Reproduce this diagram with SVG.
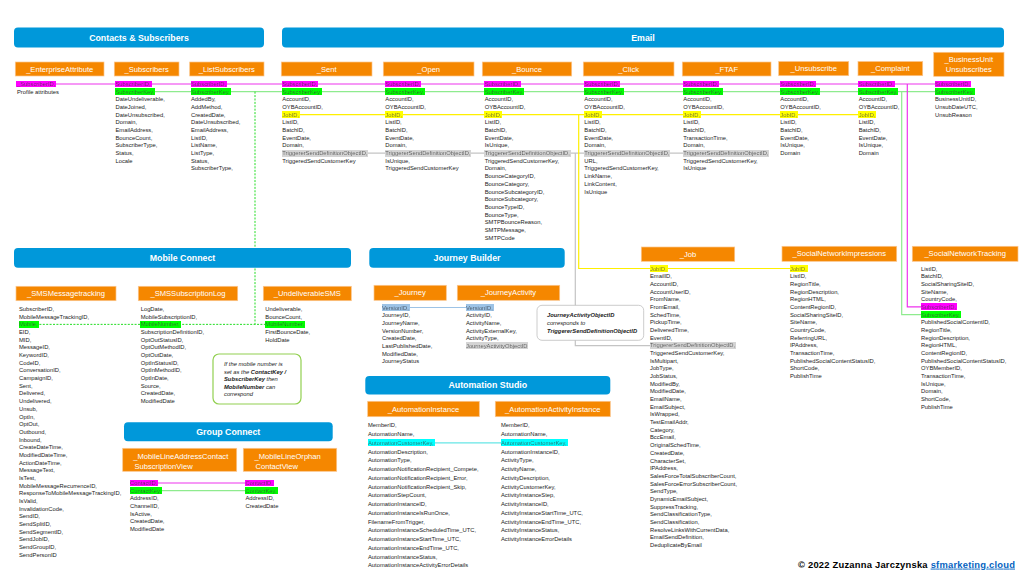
<svg xmlns="http://www.w3.org/2000/svg" width="1024" height="576" viewBox="0 0 1024 576">
<defs>
<filter id="hlM" x="0" y="0" width="1" height="1"><feFlood flood-color="#FF00FF" result="bg"/><feMerge><feMergeNode in="bg"/><feMergeNode in="SourceGraphic"/></feMerge></filter>
<filter id="hlG" x="0" y="0" width="1" height="1"><feFlood flood-color="#00FF00" result="bg"/><feMerge><feMergeNode in="bg"/><feMergeNode in="SourceGraphic"/></feMerge></filter>
<filter id="hlY" x="0" y="0" width="1" height="1"><feFlood flood-color="#FFFF00" result="bg"/><feMerge><feMergeNode in="bg"/><feMergeNode in="SourceGraphic"/></feMerge></filter>
<filter id="hlS" x="0" y="0" width="1" height="1"><feFlood flood-color="#D4D4D4" result="bg"/><feMerge><feMergeNode in="bg"/><feMergeNode in="SourceGraphic"/></feMerge></filter>
<filter id="hlB" x="0" y="0" width="1" height="1"><feFlood flood-color="#9DC3E6" result="bg"/><feMerge><feMergeNode in="bg"/><feMergeNode in="SourceGraphic"/></feMerge></filter>
<filter id="hlC" x="0" y="0" width="1" height="1"><feFlood flood-color="#00FFFF" result="bg"/><feMerge><feMergeNode in="bg"/><feMergeNode in="SourceGraphic"/></feMerge></filter>
</defs>
<style>
.f{font-family:"Liberation Sans",Arial,sans-serif;font-size:5.8px;fill:#222}
.it{font-style:italic}
.b{font-weight:bold}
.th{font-family:"Liberation Sans",Arial,sans-serif;font-size:7.6px;fill:#fff;text-anchor:middle}
.thl{font-family:"Liberation Sans",Arial,sans-serif;font-size:7.6px;fill:#fff}
.sh{font-family:"Liberation Sans",Arial,sans-serif;font-size:8.8px;font-weight:bold;fill:#fff;text-anchor:middle}
.ob{fill:#F58700;stroke:#FBC58C;stroke-width:0.7}
.bb{fill:#0098DA}
.hm{filter:url(#hlM)}
.hg{filter:url(#hlG)}
.hy{filter:url(#hlY)}
.hs{filter:url(#hlS)}
.hb{filter:url(#hlB)}
.hc{filter:url(#hlC)}
.ln{fill:none;stroke-width:1.2}
.lm{stroke:#EE33EE}
.lg{stroke:#8EEB8E}
.ly{stroke:#FFF000}
.ls{stroke:#C4C4C4}
.llb{stroke:#9DC3E6}
.lc{stroke:#66E6E6}
.ld{stroke:#22DD22;stroke-dasharray:2 1.4;stroke-width:1}
</style>
<rect width="1024" height="576" fill="#fff"/>

<g id="connectors">
<path class="ln lm" d="M17 84 H940"/>
<path class="ln lg" d="M116 91.68 H940"/>
<path class="ln ly" d="M283 114.72 H860"/>
<path class="ln ls" d="M283 153.12 H684"/>
<path class="ln ly" d="M578.7 114.72 V268.5 H792"/>
<path class="ln ls" d="M575.3 153.12 V345.6 H651"/>
<path class="ln lm" d="M907.3 84 V306.9 H922"/>
<path class="ln lg" d="M901.7 91.68 V314.58 H922"/>
<path class="ln llb" d="M382 307.5 H467"/>
<path class="ln ld" d="M255 91.68 V324.36"/>
<path class="ln ld" d="M19 324.36 H266"/>
<path class="ln lc" d="M368 442.8 H502"/>
<path class="ln lm" d="M130 483 H246"/>
<path class="ln lg" d="M130 490.68 H246"/>
</g>

<g id="section-headers">
<rect class="bb" x="14" y="27.5" width="250" height="20" rx="4"/>
<text class="sh" x="139" y="40.7">Contacts &amp; Subscribers</text>
<rect class="bb" x="282" y="27.5" width="722" height="20" rx="4"/>
<text class="sh" x="643" y="40.7">Email</text>
<rect class="bb" x="14" y="248" width="337" height="19.7" rx="4"/>
<text class="sh" x="182.5" y="261">Mobile Connect</text>
<rect class="bb" x="369.3" y="248" width="195.4" height="19.7" rx="4"/>
<text class="sh" x="467" y="261">Journey Builder</text>
<rect class="bb" x="365.3" y="376" width="245" height="18.5" rx="4"/>
<text class="sh" x="487.8" y="388.4">Automation Studio</text>
<rect class="bb" x="124" y="422.3" width="208.7" height="19" rx="4"/>
<text class="sh" x="228.3" y="435">Group Connect</text>
</g>

<g id="EnterpriseAttribute">
<rect class="ob" x="15.3" y="62" width="88.7" height="14"/>
<text class="th" x="59.7" y="71.7">_EnterpriseAttribute</text>
<text class="f hm" x="17" y="86">_SubscriberID,</text>
<text class="f" x="17" y="93.68">Profile attributes</text>
</g>

<g id="Subscribers">
<rect class="ob" x="114.3" y="62" width="64.7" height="14"/>
<text class="th" x="146.7" y="71.7">_Subscribers</text>
<text class="f hm" x="115.5" y="86">SubscriberID,</text>
<text class="f hg" x="115.5" y="93.68">SubscriberKey,</text>
<text class="f"><tspan x="115.5" y="101.36">DateUndeliverable,</tspan><tspan x="115.5" dy="7.68">DateJoined,</tspan><tspan x="115.5" dy="7.68">DateUnsubscribed,</tspan><tspan x="115.5" dy="7.68">Domain,</tspan><tspan x="115.5" dy="7.68">EmailAddress,</tspan><tspan x="115.5" dy="7.68">BounceCount,</tspan><tspan x="115.5" dy="7.68">SubscriberType,</tspan><tspan x="115.5" dy="7.68">Status,</tspan><tspan x="115.5" dy="7.68">Locale</tspan></text>
</g>

<g id="ListSubscribers">
<rect class="ob" x="189.7" y="62" width="74.3" height="14"/>
<text class="th" x="226.8" y="71.7">_ListSubscribers</text>
<text class="f hm" x="191" y="86">SubscriberID,</text>
<text class="f hg" x="191" y="93.68">SubscriberKey,</text>
<text class="f"><tspan x="191" y="101.36">AddedBy,</tspan><tspan x="191" dy="7.68">AddMethod,</tspan><tspan x="191" dy="7.68">CreatedDate,</tspan><tspan x="191" dy="7.68">DateUnsubscribed,</tspan><tspan x="191" dy="7.68">EmailAddress,</tspan><tspan x="191" dy="7.68">ListID,</tspan><tspan x="191" dy="7.68">ListName,</tspan><tspan x="191" dy="7.68">ListType,</tspan><tspan x="191" dy="7.68">Status,</tspan><tspan x="191" dy="7.68">SubscriberType,</tspan></text>
</g>

<g id="Sent">
<rect class="ob" x="281.3" y="62" width="90.7" height="14"/>
<text class="th" x="326.7" y="71.7">_Sent</text>
<text class="f hm" x="282.3" y="86">SubscriberID,</text>
<text class="f hg" x="282.3" y="93.68">SubscriberKey,</text>
<text class="f hy" x="282.3" y="116.72">JobID,</text>
<text class="f hs" x="282.3" y="155.12">TriggererSendDefinitionObjectID,</text>
<text class="f"><tspan x="282.3" y="101.36">AccountID,</tspan><tspan x="282.3" dy="7.68">OYBAccountID,</tspan><tspan x="282.3" y="124.4">ListID,</tspan><tspan x="282.3" dy="7.68">BatchID,</tspan><tspan x="282.3" dy="7.68">EventDate,</tspan><tspan x="282.3" dy="7.68">Domain,</tspan><tspan x="282.3" y="162.8">TriggeredSendCustomerKey</tspan></text>
</g>

<g id="Open">
<rect class="ob" x="383.3" y="62" width="90.7" height="14"/>
<text class="th" x="428.7" y="71.7">_Open</text>
<text class="f hm" x="385.3" y="86">SubscriberID,</text>
<text class="f hg" x="385.3" y="93.68">SubscriberKey,</text>
<text class="f hy" x="385.3" y="116.72">JobID,</text>
<text class="f hs" x="385.3" y="155.12">TriggererSendDefinitionObjectID,</text>
<text class="f"><tspan x="385.3" y="101.36">AccountID,</tspan><tspan x="385.3" dy="7.68">OYBAccountID,</tspan><tspan x="385.3" y="124.4">ListID,</tspan><tspan x="385.3" dy="7.68">BatchID,</tspan><tspan x="385.3" dy="7.68">EventDate,</tspan><tspan x="385.3" dy="7.68">Domain,</tspan><tspan x="385.3" y="162.8">IsUnique,</tspan><tspan x="385.3" dy="7.68">TriggeredSendCustomerKey</tspan></text>
</g>

<g id="Bounce">
<rect class="ob" x="482.3" y="62" width="89.4" height="14"/>
<text class="th" x="527" y="71.7">_Bounce</text>
<text class="f hm" x="484.7" y="86">SubscriberID,</text>
<text class="f hg" x="484.7" y="93.68">SubscriberKey,</text>
<text class="f hy" x="484.7" y="116.72">JobID,</text>
<text class="f hs" x="484.7" y="155.12">TriggererSendDefinitionObjectID,</text>
<text class="f"><tspan x="484.7" y="101.36">AccountID,</tspan><tspan x="484.7" dy="7.68">OYBAccountID,</tspan><tspan x="484.7" y="124.4">ListID,</tspan><tspan x="484.7" dy="7.68">BatchID,</tspan><tspan x="484.7" dy="7.68">EventDate,</tspan><tspan x="484.7" dy="7.68">IsUnique,</tspan><tspan x="484.7" y="162.8">TriggeredSendCustomerKey,</tspan><tspan x="484.7" dy="7.68">Domain,</tspan><tspan x="484.7" dy="7.68">BounceCategoryID,</tspan><tspan x="484.7" dy="7.68">BounceCategory,</tspan><tspan x="484.7" dy="7.68">BounceSubcategoryID,</tspan><tspan x="484.7" dy="7.68">BounceSubcategory,</tspan><tspan x="484.7" dy="7.68">BounceTypeID,</tspan><tspan x="484.7" dy="7.68">BounceType,</tspan><tspan x="484.7" dy="7.68">SMTPBounceReason,</tspan><tspan x="484.7" dy="7.68">SMTPMessage,</tspan><tspan x="484.7" dy="7.68">SMTPCode</tspan></text>
</g>

<g id="Click">
<rect class="ob" x="583.3" y="62" width="90.7" height="14"/>
<text class="th" x="628.7" y="71.7">_Click</text>
<text class="f hm" x="584.3" y="86">SubscriberID,</text>
<text class="f hg" x="584.3" y="93.68">SubscriberKey,</text>
<text class="f hy" x="584.3" y="116.72">JobID,</text>
<text class="f hs" x="584.3" y="155.12">TriggererSendDefinitionObjectID,</text>
<text class="f"><tspan x="584.3" y="101.36">AccountID,</tspan><tspan x="584.3" dy="7.68">OYBAccountID,</tspan><tspan x="584.3" y="124.4">ListID,</tspan><tspan x="584.3" dy="7.68">BatchID,</tspan><tspan x="584.3" dy="7.68">EventDate,</tspan><tspan x="584.3" dy="7.68">Domain,</tspan><tspan x="584.3" y="162.8">URL,</tspan><tspan x="584.3" dy="7.68">TriggeredSendCustomerKey,</tspan><tspan x="584.3" dy="7.68">LinkName,</tspan><tspan x="584.3" dy="7.68">LinkContent,</tspan><tspan x="584.3" dy="7.68">IsUnique</tspan></text>
</g>

<g id="FTAF">
<rect class="ob" x="682.3" y="62" width="88.7" height="14"/>
<text class="th" x="726.7" y="71.7">_FTAF</text>
<text class="f hm" x="683.3" y="86">SubscriberID,</text>
<text class="f hg" x="683.3" y="93.68">SubscriberKey,</text>
<text class="f hy" x="683.3" y="116.72">JobID,</text>
<text class="f hs" x="683.3" y="155.12">TriggererSendDefinitionObjectID,</text>
<text class="f"><tspan x="683.3" y="101.36">AccountID,</tspan><tspan x="683.3" dy="7.68">OYBAccountID,</tspan><tspan x="683.3" y="124.4">ListID,</tspan><tspan x="683.3" dy="7.68">BatchID,</tspan><tspan x="683.3" dy="7.68">TransactionTime,</tspan><tspan x="683.3" dy="7.68">Domain,</tspan><tspan x="683.3" y="162.8">TriggeredSendCustomerKey,</tspan><tspan x="683.3" dy="7.68">IsUnique</tspan></text>
</g>

<g id="Unsubscribe">
<rect class="ob" x="778.7" y="61.5" width="70" height="14.2"/>
<text class="th" x="813.7" y="71.3">_Unsubscribe</text>
<text class="f hm" x="780.3" y="86">SubscriberID,</text>
<text class="f hg" x="780.3" y="93.68">SubscriberKey,</text>
<text class="f hy" x="780.3" y="116.72">JobID,</text>
<text class="f"><tspan x="780.3" y="101.36">AccountID,</tspan><tspan x="780.3" dy="7.68">OYBAccountID,</tspan><tspan x="780.3" y="124.4">ListID,</tspan><tspan x="780.3" dy="7.68">BatchID,</tspan><tspan x="780.3" dy="7.68">EventDate,</tspan><tspan x="780.3" dy="7.68">IsUnique,</tspan><tspan x="780.3" dy="7.68">Domain</tspan></text>
</g>

<g id="Complaint">
<rect class="ob" x="858" y="61.5" width="64.7" height="14.2"/>
<text class="th" x="890.3" y="71.3">_Complaint</text>
<text class="f hm" x="858.7" y="86">SubscriberID,</text>
<text class="f hg" x="858.7" y="93.68">SubscriberKey,</text>
<text class="f hy" x="858.7" y="116.72">JobID,</text>
<text class="f"><tspan x="858.7" y="101.36">AccountID,</tspan><tspan x="858.7" dy="7.68">OYBAccountID,</tspan><tspan x="858.7" y="124.4">ListID,</tspan><tspan x="858.7" dy="7.68">BatchID,</tspan><tspan x="858.7" dy="7.68">EventDate,</tspan><tspan x="858.7" dy="7.68">IsUnique,</tspan><tspan x="858.7" dy="7.68">Domain</tspan></text>
</g>

<g id="BusinessUnitUnsubscribes">
<rect class="ob" x="933.7" y="52.3" width="70.3" height="24"/>
<text class="th" x="968.8" y="61.8">_BusinessUnit</text>
<text class="th" x="968.8" y="72.1">Unsubscribes</text>
<text class="f hm" x="935" y="86">SubscriberID,</text>
<text class="f hg" x="935" y="93.68">SubscriberKey,</text>
<text class="f"><tspan x="935" y="101.36">BusinessUnitID,</tspan><tspan x="935" dy="7.68">UnsubDateUTC,</tspan><tspan x="935" dy="7.68">UnsubReason</tspan></text>
</g>

<g id="SMSMessagetracking">
<rect class="ob" x="16" y="286.3" width="100" height="14.4"/>
<text class="th" x="66" y="296.2">_SMSMessagetracking</text>
<text class="f hg" x="19" y="326.36">Mobile,</text>
<text class="f"><tspan x="19" y="311">SubscriberID,</tspan><tspan x="19" dy="7.68">MobileMessageTrackingID,</tspan><tspan x="19" y="334.04">EID,</tspan><tspan x="19" dy="7.68">MID,</tspan><tspan x="19" dy="7.68">MessageID,</tspan><tspan x="19" dy="7.68">KeywordID,</tspan><tspan x="19" dy="7.68">CodeID,</tspan><tspan x="19" dy="7.68">ConversationID,</tspan><tspan x="19" dy="7.68">CampaignID,</tspan><tspan x="19" dy="7.68">Sent,</tspan><tspan x="19" dy="7.68">Delivered,</tspan><tspan x="19" dy="7.68">Undelivered,</tspan><tspan x="19" dy="7.68">Unsub,</tspan><tspan x="19" dy="7.68">OptIn,</tspan><tspan x="19" dy="7.68">OptOut,</tspan><tspan x="19" dy="7.68">Outbound,</tspan><tspan x="19" dy="7.68">Inbound,</tspan><tspan x="19" dy="7.68">CreateDateTime,</tspan><tspan x="19" dy="7.68">ModifiedDateTime,</tspan><tspan x="19" dy="7.68">ActionDateTime,</tspan><tspan x="19" dy="7.68">MessageText,</tspan><tspan x="19" dy="7.68">IsTest,</tspan><tspan x="19" dy="7.68">MobileMessageRecurrenceID,</tspan><tspan x="19" dy="7.68">ResponseToMobileMessageTrackingID,</tspan><tspan x="19" dy="7.68">IsValid,</tspan><tspan x="19" dy="7.68">InvalidationCode,</tspan><tspan x="19" dy="7.68">SendID,</tspan><tspan x="19" dy="7.68">SendSplitID,</tspan><tspan x="19" dy="7.68">SendSegmentID,</tspan><tspan x="19" dy="7.68">SendJobID,</tspan><tspan x="19" dy="7.68">SendGroupID,</tspan><tspan x="19" dy="7.68">SendPersonID</tspan></text>
</g>

<g id="SMSSubscriptionLog">
<rect class="ob" x="138.3" y="286.3" width="99.4" height="14.4"/>
<text class="th" x="188" y="296.2">_SMSSubscriptionLog</text>
<text class="f hg" x="140.7" y="326.36">MobileNumber,</text>
<text class="f"><tspan x="140.7" y="311">LogDate,</tspan><tspan x="140.7" dy="7.68">MobileSubscriptionID,</tspan><tspan x="140.7" y="334.04">SubscriptionDefinitionID,</tspan><tspan x="140.7" dy="7.68">OptOutStatusID,</tspan><tspan x="140.7" dy="7.68">OptOutMethodID,</tspan><tspan x="140.7" dy="7.68">OptOutDate,</tspan><tspan x="140.7" dy="7.68">OptInStatusID,</tspan><tspan x="140.7" dy="7.68">OptInMethodID,</tspan><tspan x="140.7" dy="7.68">OptInDate,</tspan><tspan x="140.7" dy="7.68">Source,</tspan><tspan x="140.7" dy="7.68">CreatedDate,</tspan><tspan x="140.7" dy="7.68">ModifiedDate</tspan></text>
</g>

<g id="UndeliverableSMS">
<rect class="ob" x="263.3" y="286.3" width="88" height="14.4"/>
<text class="th" x="307.3" y="296.2">_UndeliverableSMS</text>
<text class="f hg" x="265.3" y="326.36">MobileNumber,</text>
<text class="f"><tspan x="265.3" y="311">Undeliverable,</tspan><tspan x="265.3" dy="7.68">BounceCount,</tspan><tspan x="265.3" y="334.04">FirstBounceDate,</tspan><tspan x="265.3" dy="7.68">HoldDate</tspan></text>
</g>

<g id="mobile-note">
<rect x="213" y="354" width="88" height="50" rx="6" fill="#fff" stroke="#92D050" stroke-width="1.2"/>
<text class="f it"><tspan x="224" y="366">If the mobile number is</tspan><tspan x="224" dy="7.6">set as the <tspan class="b">ContactKey /</tspan></tspan><tspan x="224" dy="7.6" class="b">SubscriberKey</tspan><tspan> then</tspan><tspan x="224" dy="7.6" class="b">MobileNumber</tspan><tspan> can</tspan><tspan x="224" dy="7.6">correspond</tspan></text>
</g>

<g id="Journey">
<rect class="ob" x="374" y="285.3" width="72.3" height="15"/>
<text class="th" x="410.2" y="295.4">_Journey</text>
<text class="f hb" x="382" y="309.5">VersionID,</text>
<text class="f"><tspan x="382" y="317.18">JourneyID,</tspan><tspan x="382" dy="7.68">JourneyName,</tspan><tspan x="382" dy="7.68">VersionNumber,</tspan><tspan x="382" dy="7.68">CreatedDate,</tspan><tspan x="382" dy="7.68">LastPublishedDate,</tspan><tspan x="382" dy="7.68">ModifiedDate,</tspan><tspan x="382" dy="7.68">JourneyStatus</tspan></text>
</g>

<g id="JourneyActivity">
<rect class="ob" x="457.3" y="285.3" width="102.4" height="15"/>
<text class="th" x="508.5" y="295.4">_JourneyActivity</text>
<text class="f hb" x="466" y="309.5">VersionID,</text>
<text class="f hs" x="466" y="347.9">JourneyActivityObjectID</text>
<text class="f"><tspan x="466" y="317.18">ActivityID,</tspan><tspan x="466" dy="7.68">ActivityName,</tspan><tspan x="466" dy="7.68">ActivityExternalKey,</tspan><tspan x="466" dy="7.68">ActivityType,</tspan></text>
</g>

<g id="journey-note">
<rect x="537" y="305.3" width="106.7" height="35" rx="5" fill="#fff" stroke="#BFBFBF" stroke-width="0.8"/>
<text class="f it b" x="547" y="317.3">JourneyActivityObjectID</text>
<text class="f it" x="547" y="325">corresponds to</text>
<text class="f it b" x="547" y="332.5">TriggererSendDefinitionObjectID</text>
</g>

<g id="Job">
<rect class="ob" x="641.3" y="247" width="93.4" height="14.3"/>
<text class="th" x="688" y="256.8">_Job</text>
<text class="f hy" x="650" y="270.5">JobID,</text>
<text class="f hs" x="650" y="347.3">TriggererSendDefinitionObjectID,</text>
<text class="f"><tspan x="650" y="278.18">EmailID,</tspan><tspan x="650" dy="7.68">AccountID,</tspan><tspan x="650" dy="7.68">AccountUserID,</tspan><tspan x="650" dy="7.68">FromName,</tspan><tspan x="650" dy="7.68">FromEmail,</tspan><tspan x="650" dy="7.68">SchedTime,</tspan><tspan x="650" dy="7.68">PickupTime,</tspan><tspan x="650" dy="7.68">DeliveredTime,</tspan><tspan x="650" dy="7.68">EventID,</tspan><tspan x="650" y="354.98">TriggeredSendCustomerKey,</tspan><tspan x="650" dy="7.68">IsMultipart,</tspan><tspan x="650" dy="7.68">JobType,</tspan><tspan x="650" dy="7.68">JobStatus,</tspan><tspan x="650" dy="7.68">ModifiedBy,</tspan><tspan x="650" dy="7.68">ModifiedDate,</tspan><tspan x="650" dy="7.68">EmailName,</tspan><tspan x="650" dy="7.68">EmailSubject,</tspan><tspan x="650" dy="7.68">IsWrapped,</tspan><tspan x="650" dy="7.68">TestEmailAddr,</tspan><tspan x="650" dy="7.68">Category,</tspan><tspan x="650" dy="7.68">BccEmail,</tspan><tspan x="650" dy="7.68">OriginalSchedTime,</tspan><tspan x="650" dy="7.68">CreatedDate,</tspan><tspan x="650" dy="7.68">CharacterSet,</tspan><tspan x="650" dy="7.68">IPAddress,</tspan><tspan x="650" dy="7.68">SalesForceTotalSubscriberCount,</tspan><tspan x="650" dy="7.68">SalesForceErrorSubscriberCount,</tspan><tspan x="650" dy="7.68">SendType,</tspan><tspan x="650" dy="7.68">DynamicEmailSubject,</tspan><tspan x="650" dy="7.68">SuppressTracking,</tspan><tspan x="650" dy="7.68">SendClassificationType,</tspan><tspan x="650" dy="7.68">SendClassification,</tspan><tspan x="650" dy="7.68">ResolveLinksWithCurrentData,</tspan><tspan x="650" dy="7.68">EmailSendDefinition,</tspan><tspan x="650" dy="7.68">DeduplicateByEmail</tspan></text>
</g>

<g id="SocialNetworkImpressions">
<rect class="ob" x="782" y="246.3" width="114.7" height="15"/>
<text class="th" x="839.3" y="256.4">_SocialNetworkImpressions</text>
<text class="f hy" x="790" y="270.5">JobID,</text>
<text class="f"><tspan x="790" y="278.18">ListID,</tspan><tspan x="790" dy="7.68">RegionTitle,</tspan><tspan x="790" dy="7.68">RegionDescription,</tspan><tspan x="790" dy="7.68">RegionHTML,</tspan><tspan x="790" dy="7.68">ContentRegionID,</tspan><tspan x="790" dy="7.68">SocialSharingSiteID,</tspan><tspan x="790" dy="7.68">SiteName,</tspan><tspan x="790" dy="7.68">CountryCode,</tspan><tspan x="790" dy="7.68">ReferringURL,</tspan><tspan x="790" dy="7.68">IPAddress,</tspan><tspan x="790" dy="7.68">TransactionTime,</tspan><tspan x="790" dy="7.68">PublishedSocialContentStatusID,</tspan><tspan x="790" dy="7.68">ShortCode,</tspan><tspan x="790" dy="7.68">PublishTime</tspan></text>
</g>

<g id="SocialNetworkTracking">
<rect class="ob" x="912.3" y="246.3" width="105.7" height="15"/>
<text class="th" x="965.2" y="256.4">_SocialNetworkTracking</text>
<text class="f hm" x="921" y="308.9">SubscriberID,</text>
<text class="f hg" x="921" y="316.58">SubscriberKey,</text>
<text class="f"><tspan x="921" y="270.5">ListID,</tspan><tspan x="921" dy="7.68">BatchID,</tspan><tspan x="921" dy="7.68">SocialSharingSiteID,</tspan><tspan x="921" dy="7.68">SiteName,</tspan><tspan x="921" dy="7.68">CountryCode,</tspan><tspan x="921" y="324.26">PublishedSocialContentID,</tspan><tspan x="921" dy="7.68">RegionTitle,</tspan><tspan x="921" dy="7.68">RegionDescription,</tspan><tspan x="921" dy="7.68">RegionHTML,</tspan><tspan x="921" dy="7.68">ContentRegionID,</tspan><tspan x="921" dy="7.68">PublishedSocialContentStatusID,</tspan><tspan x="921" dy="7.68">OYBMemberID,</tspan><tspan x="921" dy="7.68">TransactionTime,</tspan><tspan x="921" dy="7.68">IsUnique,</tspan><tspan x="921" dy="7.68">Domain,</tspan><tspan x="921" dy="7.68">ShortCode,</tspan><tspan x="921" dy="7.68">PublishTime</tspan></text>
</g>

<g id="MobileLineAddressContactSubscriptionView">
<rect class="ob" x="122.7" y="448.3" width="114" height="23"/>
<text class="thl" x="133.3" y="458.8">_MobileLineAddressContact</text>
<text class="thl" x="134.5" y="468.8">SubscriptionView</text>
<text class="f hm" x="130" y="485">ContactID,</text>
<text class="f hg" x="130" y="492.68">ContactKey,</text>
<text class="f"><tspan x="130" y="500.36">AddressID,</tspan><tspan x="130" dy="7.68">ChannelID,</tspan><tspan x="130" dy="7.68">IsActive,</tspan><tspan x="130" dy="7.68">CreatedDate,</tspan><tspan x="130" dy="7.68">ModifiedDate</tspan></text>
</g>

<g id="MobileLineOrphanContactView">
<rect class="ob" x="243.3" y="448.3" width="93.4" height="23"/>
<text class="thl" x="254.5" y="458.8">_MobileLineOrphan</text>
<text class="thl" x="255.5" y="468.8">ContactView</text>
<text class="f hm" x="245.5" y="485">ContactID,</text>
<text class="f hg" x="245.5" y="492.68">ContactKey,</text>
<text class="f"><tspan x="245.5" y="500.36">AddressID,</tspan><tspan x="245.5" dy="7.68">CreatedDate</tspan></text>
</g>

<g id="AutomationInstance">
<rect class="ob" x="367.7" y="401.3" width="111.6" height="15.4"/>
<text class="th" x="423.5" y="411.7">_AutomationInstance</text>
<text class="f hc" x="368" y="444.8">AutomationCustomerKey,</text>
<text class="f"><tspan x="368" y="427.3">MemberID,</tspan><tspan x="368" dy="8.75">AutomationName,</tspan><tspan x="368" y="453.55">AutomationDescription,</tspan><tspan x="368" dy="8.75">AutomationType,</tspan><tspan x="368" dy="8.75">AutomationNotificationRecipient_Compete,</tspan><tspan x="368" dy="8.75">AutomationNotificationRecipient_Error,</tspan><tspan x="368" dy="8.75">AutomationNotificationRecipient_Skip,</tspan><tspan x="368" dy="8.75">AutomationStepCount,</tspan><tspan x="368" dy="8.75">AutomationInstanceID,</tspan><tspan x="368" dy="8.75">AutomationInstanceIsRunOnce,</tspan><tspan x="368" dy="8.75">FilenameFromTrigger,</tspan><tspan x="368" dy="8.75">AutomationInstanceScheduledTime_UTC,</tspan><tspan x="368" dy="8.75">AutomationInstanceStartTime_UTC,</tspan><tspan x="368" dy="8.75">AutomationInstanceEndTime_UTC,</tspan><tspan x="368" dy="8.75">AutomationInstanceStatus,</tspan><tspan x="368" dy="8.75">AutomationInstanceActivityErrorDetails</tspan></text>
</g>

<g id="AutomationActivityInstance">
<rect class="ob" x="495.3" y="401.3" width="115" height="15.4"/>
<text class="th" x="552.8" y="411.7">_AutomationActivityInstance</text>
<text class="f hc" x="501" y="444.8">AutomationCustomerKey,</text>
<text class="f"><tspan x="501" y="427.3">MemberID,</tspan><tspan x="501" dy="8.75">AutomationName,</tspan><tspan x="501" y="453.55">AutomationInstanceID,</tspan><tspan x="501" dy="8.75">ActivityType,</tspan><tspan x="501" dy="8.75">ActivityName,</tspan><tspan x="501" dy="8.75">ActivityDescription,</tspan><tspan x="501" dy="8.75">ActivityCustomerKey,</tspan><tspan x="501" dy="8.75">ActivityInstanceStep,</tspan><tspan x="501" dy="8.75">ActivityInstanceID,</tspan><tspan x="501" dy="8.75">ActivityInstanceStartTime_UTC,</tspan><tspan x="501" dy="8.75">ActivityInstanceEndTime_UTC,</tspan><tspan x="501" dy="8.75">ActivityInstanceStatus,</tspan><tspan x="501" dy="8.75">ActivityInstanceErrorDetails</tspan></text>
</g>

<g id="footer">
<text x="798" y="567.6" font-family="'Liberation Sans',Arial,sans-serif" font-size="9.4" font-weight="bold" fill="#000" textLength="217" lengthAdjust="spacing">© 2022 Zuzanna Jarczynska <tspan fill="#0563C1" text-decoration="underline">sfmarketing.cloud</tspan></text>
</g>
</svg>
